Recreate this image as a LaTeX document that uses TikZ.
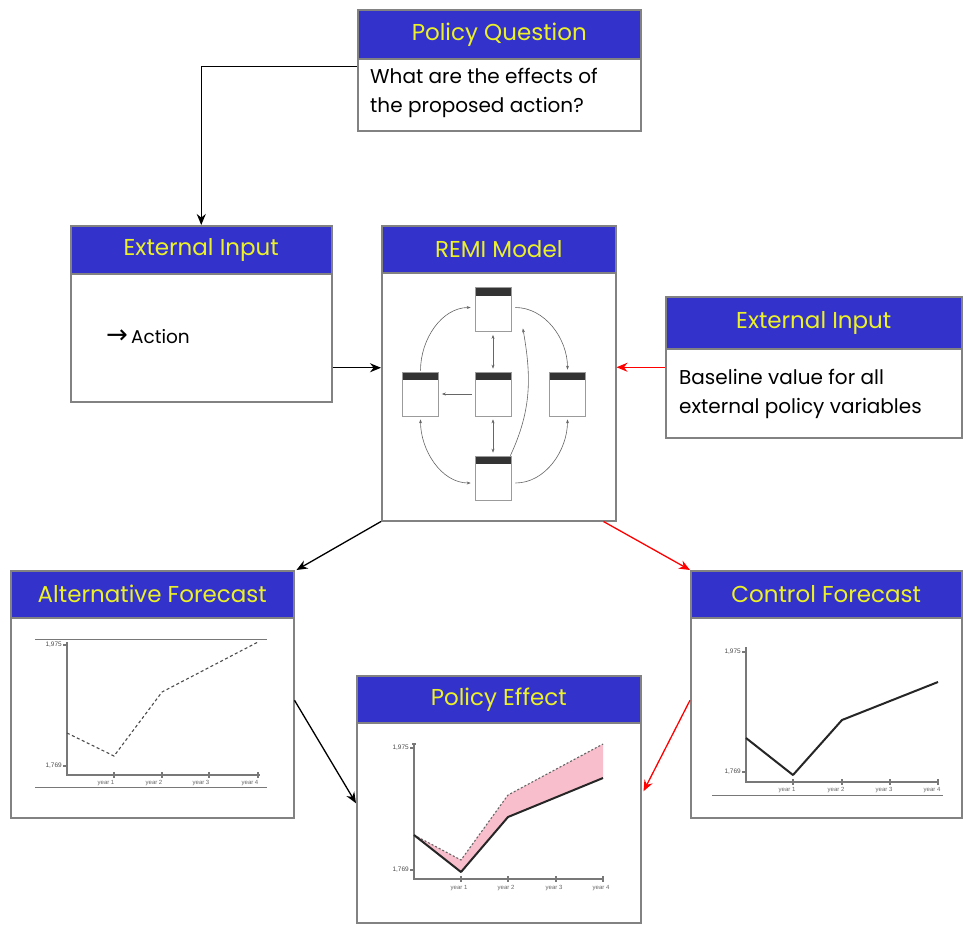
\documentclass[tikz,border=0pt]{standalone}
\usepackage{fontspec}
\setmainfont{Poppins}
\newfontfamily\symf{DejaVu Sans}
\newfontfamily\smallf{Liberation Sans}
\usetikzlibrary{arrows.meta}
\definecolor{hdrblue}{RGB}{51,51,204}
\definecolor{hdryel}{RGB}{235,240,40}
\definecolor{bordergray}{RGB}{130,130,130}
\definecolor{pinkfill}{RGB}{248,190,204}
\definecolor{axisgray}{RGB}{120,120,120}
\begin{document}
\begin{tikzpicture}[x=1pt,y=-1pt,
 boxs/.style={draw=bordergray, line width=1.5pt, fill=white, anchor=north west, inner sep=0pt},
 hdr/.style={draw=bordergray, line width=1.5pt, fill=hdrblue, anchor=north west, inner sep=0pt, text=hdryel, font=\fontsize{23}{26}\selectfont},
 bodytxt/.style={anchor=north west, align=left, inner sep=0pt, font=\fontsize{20}{29.5}\selectfont},
 conn/.style={line width=1.3pt, -{Stealth[length=11pt,width=9pt]}},
 rconn/.style={conn, red},
 mini/.style={draw=bordergray!80, line width=0.7pt, fill=white, minimum width=36pt, minimum height=44pt, inner sep=0pt,
   path picture={\fill[black!80] (path picture bounding box.north west) rectangle ([yshift=-8pt]path picture bounding box.north east);}},
 marr/.style={draw=black!60, line width=0.6pt, -{Stealth[length=4pt,width=3pt]}},
 mdarr/.style={draw=black!60, line width=0.6pt, {Stealth[length=4pt,width=3pt]}-{Stealth[length=4pt,width=3pt]}},
 axis/.style={draw=axisgray, line width=1.1pt},
 thinl/.style={draw=axisgray, line width=0.8pt},
 ylab/.style={anchor=east, inner sep=1pt, font=\smallf\fontsize{6.5}{7}\selectfont, text=black!70},
 xlab/.style={anchor=north, inner sep=1pt, font=\smallf\fontsize{6}{7}\selectfont, text=black!60}
]
\useasboundingbox (0,0) rectangle (963,924);

% ---------- Policy Question ----------
\node[boxs, minimum width=283pt, minimum height=121pt] (pq) at (357,9) {};
\node[hdr, minimum width=283pt, minimum height=49pt] (pqh) at (357,9) {Policy Question};
\node[bodytxt] (pqt) at (370,68) {What are the effects of\\the proposed action?};

% ---------- External Input (left) ----------
\node[boxs, minimum width=261pt, minimum height=176pt] (ei1) at (70,225) {};
\node[hdr, minimum width=261pt, minimum height=48pt] (ei1h) at (70,225) {External Input};
\node[anchor=west, inner sep=0pt, font=\fontsize{18.5}{22}\selectfont] (ei1t) at (106,337) {{\symf\fontsize{26}{22}\selectfont →}\,Action};

% ---------- REMI Model ----------
\node[boxs, minimum width=234pt, minimum height=295pt] (remi) at (381,225) {};
\node[hdr, minimum width=234pt, minimum height=47pt] (remih) at (381,225) {REMI Model};

\node[mini] (mt) at (493,309.5) {};
\node[mini] (ml) at (420.5,394) {};
\node[mini] (mc) at (493,394) {};
\node[mini] (mr) at (567.5,394) {};
\node[mini] (mb) at (493,478) {};
\draw[mdarr, shorten <=3pt, shorten >=3pt] (mt.south) -- (mc.north);
\draw[mdarr, shorten <=3pt, shorten >=3pt] (mc.south) -- (mb.north);
\draw[marr, shorten <=3pt, shorten >=3pt] (mc.west) -- (ml.east);
\draw[marr, shorten <=1pt, shorten >=4pt] (ml.north) to[out=90,in=180] ([yshift=2pt]mt.west);
\draw[marr, shorten <=4pt, shorten >=2pt] ([yshift=2pt]mt.east) to[out=0,in=90] (mr.north);
\draw[mdarr, shorten <=3pt, shorten >=4pt] (ml.south) to[out=-90,in=180] ([yshift=-5pt]mb.west);
\draw[marr, shorten <=4pt, shorten >=3pt] ([yshift=-5pt]mb.east) to[out=0,in=-90] (mr.south);
\draw[marr, shorten >=3pt] ([xshift=-1pt]mb.north east) to[out=65,in=-80] ([xshift=11pt,yshift=-16pt]mt.east);

% ---------- External Input (right) ----------
\node[boxs, minimum width=296pt, minimum height=141pt] (ei2) at (665,296) {};
\node[hdr, minimum width=296pt, minimum height=52pt] (ei2h) at (665,296) {External Input};
\node[bodytxt] (ei2t) at (679,369) {Baseline value for all\\external policy variables};

% ---------- Alternative Forecast ----------
\node[boxs, minimum width=283pt, minimum height=247pt] (alt) at (10,570) {};
\node[hdr, minimum width=283pt, minimum height=47pt] (alth) at (10,570) {Alternative Forecast};
\draw[thinl] (35,639) -- (267,639);
\draw[thinl] (35,787) -- (267,787);
\draw[axis] (67,642) -- (67,775) -- (260,775);
\draw[axis] (63,645) -- (67,645) (63,766) -- (67,766);
\foreach \x in {114,162,209,258} {\draw[axis] (\x,772) -- (\x,778);}
\node[ylab] at (63,645) {1,975};
\node[ylab] at (63,766) {1,769};
\foreach \x/\n in {114/1,162/2,209/3,258/4} {\node[xlab] at (\x-8,779) {year \n};}
\draw[black!70, line width=1.1pt, dash pattern=on 3pt off 2.5pt] (67,733) -- (114,756) -- (162,692) -- (258,642);

% ---------- Control Forecast ----------
\node[boxs, minimum width=271pt, minimum height=247pt] (cf) at (690,570) {};
\node[hdr, minimum width=271pt, minimum height=47pt] (cfh) at (690,570) {Control Forecast};
\draw[thinl] (712,795) -- (943,795);
\draw[axis] (746,647) -- (746,782) -- (938,782);
\draw[axis] (742,652) -- (746,652) (742,772) -- (746,772);
\foreach \x in {793,842,890,938} {\draw[axis] (\x,779) -- (\x,785);}
\node[ylab] at (742,652) {1,975};
\node[ylab] at (742,772) {1,769};
\foreach \x/\n in {793/1,842/2,890/3,938/4} {\node[xlab] at (\x-6,786) {year \n};}
\draw[black!85, line width=2pt, line join=round] (746,738) -- (793,775) -- (842,720) -- (938,682);

% ---------- Policy Effect ----------
\node[boxs, minimum width=284pt, minimum height=247pt] (pe) at (356,675) {};
\node[hdr, minimum width=284pt, minimum height=47pt] (peh) at (356,675) {Policy Effect};
\fill[pinkfill] (414,835) -- (461,860) -- (508,795) -- (603,744) -- (603,778) -- (508,817) -- (461,872) -- cycle;
\draw[axis] (414,744) -- (414,879) -- (603,879);
\draw[axis] (410,748) -- (414,748) (410,870) -- (414,870) (412,744) -- (416,744);
\foreach \x in {461,508,556,603} {\draw[axis] (\x,876) -- (\x,882);}
\node[ylab] at (410,748) {1,975};
\node[ylab] at (410,870) {1,769};
\foreach \x/\n in {461/1,508/2,556/3,603/4} {\node[xlab] at (\x-2,884) {year \n};}
\draw[black!60, line width=1.1pt, dash pattern=on 2pt off 2pt] (414,835) -- (461,860) -- (508,795) -- (603,744);
\draw[black!85, line width=2pt, line join=round] (414,835) -- (461,872) -- (508,817) -- (603,778);

% ---------- Connectors ----------
\draw[conn] ([yshift=4pt]pq.west) -| (ei1.north);
\draw[conn] ([yshift=-54pt]ei1.east) -- ([yshift=-54pt]ei1.east -| remi.west);
\draw[rconn] (ei2.west) -- (ei2.west -| remi.east);
\draw[conn] (remi.south west) -- ([xshift=2pt]alt.north east);
\draw[rconn] ([xshift=-13pt]remi.south east) -- (cf.north west);
\draw[conn] ([yshift=-6pt]alt.east) -- ([yshift=-4pt]pe.west);
\draw[rconn] ([yshift=-6pt]cf.west) -- ([yshift=8pt,xshift=2pt]pe.east);
\end{tikzpicture}
\end{document}
